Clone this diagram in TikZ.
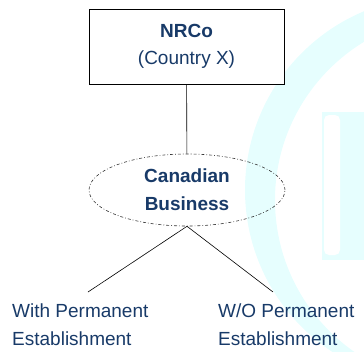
\documentclass[tikz,border=0pt]{standalone}
\usepackage{fontspec}
\setmainfont{Liberation Sans}
\usetikzlibrary{shapes.geometric, positioning}

\definecolor{txtblue}{RGB}{24,58,104}
\definecolor{wmcyan}{RGB}{230,254,254}

\tikzset{
  entity/.style={draw, line width=0.8pt, fill=white, minimum width=195pt, minimum height=75pt,
                 align=center, text=txtblue, font=\fontsize{19}{27}\selectfont},
  activity/.style={ellipse, draw=black!80, line width=0.6pt,
                   dash pattern=on 3pt off 2pt on 0.8pt off 2pt,
                   minimum width=196pt, minimum height=72pt, inner sep=0pt,
                   align=center, text=txtblue, font=\bfseries\fontsize{19}{28}\selectfont},
  outcome/.style={align=left, inner sep=0pt, text=txtblue, font=\fontsize{19}{28}\selectfont},
  link/.style={line width=0.6pt}
}

\begin{document}
\begin{tikzpicture}[x=1pt, y=-1pt]

        \useasboundingbox (0,0) rectangle (364,351);

        % faint logo in the background
        \begin{scope}
          \clip (0,0) rectangle (364,351);
          \fill[wmcyan, even odd rule] (438.7,190) circle[radius=193.7] (460,200) circle[radius=185];
          \fill[wmcyan] (322,112) rectangle (364,260);
          \fill[white, rounded corners=5pt] (324,115) rectangle (340,255);
        \end{scope}

        % parent company and its business in Canada
        \node[entity] (nrco) at (186.5,46.5) {\textbf{NRCo}\\(Country X)};
        \node[activity] (business) at (187,190) {Canadian\\Business};

        % the two cases
        \coordinate (left end) at (88,292);
        \coordinate (right end) at (273,292);
        \node[outcome, anchor=north west] (withpe) at (12,304) {With Permanent\\Establishment};
        \node[outcome, anchor=north west] (wope) at (218,304) {W/O Permanent\\Establishment};

        \draw[link] (nrco) -- (business);
        \draw[link] (business.south) -- (left end);
        \draw[link] (business.south) -- (right end);

\end{tikzpicture}
\end{document}
